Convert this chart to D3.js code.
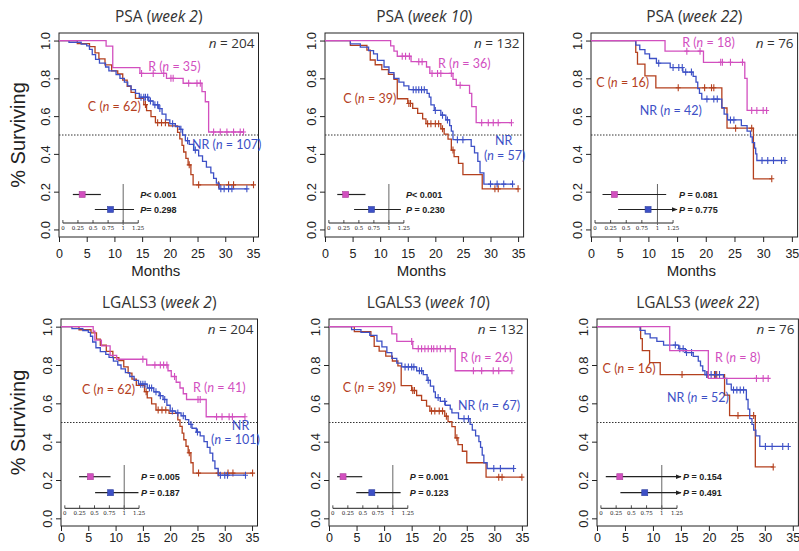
<!DOCTYPE html>
<html>
<head>
<meta charset="utf-8">
<script src="https://cdn.jsdelivr.net/npm/d3@7"></script>
<style>
  body { margin: 0; background: #fff; }
  text { font-family: "Liberation Sans", Arial, sans-serif; }
</style>
</head>
<body>
<div id="chart"></div>
<script>
// ---- data ----
var monthTicks = [0, 5, 10, 15, 20, 25, 30, 35];
var survTicks = [0, 0.2, 0.4, 0.6, 0.8, 1.0];
var hrTicks = [0, 0.25, 0.5, 0.75, 1, 1.25];
var hrTickLabels = ["0", "0.25", "0.5", "0.75", "1", "1.25"];

var markers = ["PSA", "PSA", "PSA", "LGALS3", "LGALS3", "LGALS3"];
var weeks = ["week 2", "week 10", "week 22", "week 2", "week 10", "week 22"];
var totalN = [204, 132, 76, 204, 132, 76];
var nR = [35, 36, 18, 41, 26, 8];
var nC = [62, 39, 16, 62, 39, 16];
var nNR = [107, 57, 42, 101, 67, 52];

// Kaplan-Meier steps [month, survival] and censor times
var ctrlW2 = [[0,1],[3.3,0.984],[5.5,0.968],[6.5,0.935],[7.2,0.903],[8.3,0.871],[9.5,0.839],[10.6,0.823],[11.5,0.79],[12.3,0.758],[13.0,0.726],[13.8,0.694],[15.3,0.661],[15.8,0.629],[16.6,0.597],[17.4,0.565],[19.8,0.548],[21.4,0.514],[21.8,0.48],[22.2,0.445],[22.5,0.41],[22.9,0.376],[23.3,0.342],[23.8,0.29],[24.2,0.236]];
var ctrlW2Cens = [15.6,17.8,18.5,19.2,23.5,25.2,28.8,30.6,31.5,35.1];
var ctrlW10 = [[0,1],[4.6,0.974],[7.6,0.949],[8.2,0.897],[9.1,0.872],[10.3,0.846],[11.5,0.821],[12.5,0.795],[13.1,0.692],[15.0,0.667],[15.9,0.641],[16.8,0.615],[17.7,0.585],[18.3,0.56],[21.0,0.533],[21.6,0.505],[22.3,0.478],[22.9,0.42],[23.4,0.385],[24.2,0.35],[25.0,0.29],[28.5,0.215]];
var ctrlW10Cens = [15.2,15.5,18.6,19.2,20.0,20.6,21.3,23.2,30.8,31.4,35.0];
var ctrlW22 = [[0,1],[7.8,0.9375],[8.1,0.875],[9.4,0.8125],[11.3,0.75],[22.8,0.643],[23.7,0.536],[28.3,0.268]];
var ctrlW22Cens = [15.2,19.8,21.0,21.4,25.2,28.0,31.5];

var psaW2R = [[0,1],[8.5,0.971],[9.7,0.857],[14.6,0.826],[19.4,0.80],[22.4,0.774],[25.8,0.73],[26.4,0.676],[27.0,0.516]];
var psaW2RCens = [14.9,17.0,18.9,20.2,20.6,23.4,24.9,25.5,27.9,29.1,30.3,31.5,32.7,33.3];
var psaW2NR = [[0,1],[1.8,0.991],[4.0,0.981],[5.0,0.972],[5.5,0.953],[6.0,0.925],[6.6,0.90],[7.3,0.88],[8.4,0.86],[9.0,0.84],[10.3,0.82],[11.0,0.80],[11.8,0.78],[12.4,0.76],[13.0,0.74],[13.8,0.72],[14.5,0.70],[16.2,0.68],[17.0,0.66],[18.0,0.64],[18.6,0.61],[19.3,0.58],[20.0,0.56],[21.0,0.545],[21.8,0.53],[22.3,0.50],[22.8,0.47],[23.5,0.45],[24.3,0.42],[25.2,0.39],[25.9,0.36],[26.6,0.33],[27.4,0.30],[27.9,0.27],[28.4,0.245],[28.9,0.215]];
var psaW2NRCens = [14.8,15.3,15.6,16.0,16.5,17.3,17.8,18.2,20.5,22.0,23.2,24.6,29.2,29.8,30.6,31.2,33.9];

var psaW10R = [[0,1],[11.9,0.972],[12.5,0.944],[13.1,0.917],[15.6,0.888],[18.4,0.86],[19.0,0.826],[23.2,0.795],[23.8,0.763],[26.2,0.72],[26.6,0.65],[27.4,0.565]];
var psaW10RCens = [14.0,14.6,15.3,17.0,17.6,19.4,20.4,21.0,22.9,24.5,28.4,29.6,30.5,31.4,33.8];
var psaW10NR = [[0,1],[4.6,0.982],[6.4,0.965],[7.9,0.947],[8.8,0.93],[9.5,0.895],[10.7,0.86],[11.6,0.83],[12.5,0.80],[13.4,0.78],[14.3,0.76],[15.2,0.74],[18.5,0.72],[18.9,0.70],[19.2,0.66],[19.8,0.63],[21.0,0.605],[21.9,0.58],[22.6,0.55],[22.9,0.52],[23.2,0.475],[26.5,0.44],[27.1,0.405],[27.7,0.36],[28.1,0.30],[28.8,0.24]];
var psaW10NRCens = [16.0,16.5,17.0,17.5,18.0,20.0,21.3,22.2,24.0,25.0,30.0,31.2,32.4,34.0];

var psaW22R = [[0,1],[12.9,0.944],[19.6,0.885],[26.8,0.80],[27.2,0.63]];
var psaW22RCens = [16.7,19.0,22.6,22.9,24.3,26.4,28.0,28.9,30.0,30.6];
var psaW22NR = [[0,1],[7.8,0.976],[8.5,0.952],[9.4,0.929],[10.2,0.905],[11.4,0.88],[13.8,0.857],[16.0,0.833],[17.8,0.81],[18.3,0.78],[18.6,0.745],[18.9,0.72],[19.3,0.69],[22.8,0.645],[23.2,0.61],[23.8,0.58],[26.2,0.55],[27.2,0.52],[27.8,0.49],[28.1,0.46],[28.5,0.43],[28.7,0.40],[28.9,0.365]];
var psaW22NRCens = [11.8,14.3,15.3,15.9,16.5,17.5,20.2,21.4,22.0,24.3,24.9,29.8,30.8,31.8,33.2,33.8];

var lgW2R = [[0,1],[5.9,0.976],[6.2,0.93],[7.4,0.90],[9.0,0.85],[10.2,0.83],[15.7,0.80],[19.6,0.77],[20.2,0.74],[21.1,0.71],[21.8,0.68],[22.4,0.65],[23.0,0.62],[26.6,0.53]];
var lgW2RCens = [15.0,17.2,18.2,18.8,19.4,20.8,25.1,25.5,28.5,29.5,30.8,31.4,33.7];
var lgW2NR = [[0,1],[2.0,0.99],[4.0,0.98],[5.0,0.97],[5.4,0.95],[5.8,0.92],[6.4,0.89],[7.2,0.87],[8.2,0.855],[8.8,0.84],[9.6,0.82],[10.4,0.80],[11.0,0.78],[11.8,0.76],[12.6,0.74],[13.4,0.72],[14.2,0.70],[15.8,0.68],[17.0,0.66],[18.0,0.64],[18.7,0.62],[19.4,0.59],[20.0,0.56],[21.0,0.55],[22.0,0.535],[22.8,0.515],[23.4,0.49],[24.0,0.47],[24.8,0.45],[25.5,0.43],[26.2,0.40],[26.8,0.37],[27.3,0.34],[27.8,0.30],[28.2,0.26],[28.8,0.225]];
var lgW2NRCens = [14.6,15.0,15.4,16.2,16.6,17.4,18.2,19.0,20.4,21.4,22.4,23.8,25.0,29.2,30.0,30.5,33.8];

var lgW10R = [[0,1],[11.4,0.962],[12.3,0.923],[15.2,0.885],[22.9,0.77]];
var lgW10RCens = [15.0,16.2,16.8,17.4,18.0,18.6,19.0,19.6,20.2,21.1,22.0,26.2,27.7,29.8,30.8,33.2];
var lgW10NR = [[0,1],[4.1,0.985],[5.8,0.97],[7.4,0.955],[8.7,0.925],[9.6,0.895],[10.5,0.865],[11.4,0.835],[12.3,0.81],[13.2,0.79],[15.9,0.77],[17.1,0.75],[17.8,0.72],[18.4,0.69],[19.0,0.66],[19.3,0.63],[20.2,0.61],[21.1,0.59],[22.0,0.57],[22.3,0.55],[23.5,0.52],[25.6,0.49],[26.0,0.46],[26.6,0.43],[27.2,0.40],[27.5,0.37],[27.8,0.33],[28.1,0.29],[28.7,0.26]];
var lgW10NRCens = [13.8,14.4,15.0,15.4,16.4,16.8,18.0,19.8,21.0,24.5,25.3,29.9,31.1,33.5];

var lgW22R = [[0,1],[13.0,0.875],[19.9,0.73]];
var lgW22RCens = [28.5,29.7,30.6];
var lgW22NR = [[0,1],[7.7,0.981],[8.6,0.962],[9.5,0.942],[10.7,0.923],[11.9,0.904],[14.6,0.885],[15.8,0.865],[17.2,0.845],[18.1,0.82],[18.5,0.795],[18.9,0.77],[19.3,0.75],[22.6,0.73],[23.2,0.70],[24.0,0.67],[26.7,0.62],[27.0,0.57],[27.3,0.52],[27.7,0.49],[28.0,0.46],[28.4,0.43],[29.1,0.375]];
var lgW22NRCens = [14.0,14.8,15.4,16.0,16.9,19.6,20.4,21.2,21.9,24.4,25.0,25.6,26.2,30.1,31.3,33.2,34.2];

// hazard ratio insets
var hrR = [0.32, 0.28, 0.31, 0.43, 0.17, 0.31];
var hrRLow = [0.165, 0.14, 0.12, 0.24, 0.07, 0.08];
var hrRHigh = [0.63, 0.61, 1.14, 0.77, 0.49, 1.6];
var hrNR = [0.79, 0.71, 0.85, 0.77, 0.65, 0.72];
var hrNRLow = [0.53, 0.42, 0.37, 0.51, 0.39, 0.32];
var hrNRHigh = [1.18, 1.2, 1.6, 1.24, 1.13, 1.6];
var pR = ["< 0.001", "< 0.001", " = 0.081", " = 0.005", " = 0.001", " = 0.154"];
var pNR = ["= 0.298", " = 0.230", " = 0.775", " = 0.187", " = 0.123", " = 0.491"];

// ---- layout ----
var colR = "#d24fbf", colC = "#b4401e", colNR = "#3d50c6";
var labelFont = "Lato, 'Open Sans', sans-serif";
var titleFont = "'Open Sans', Lato, sans-serif";
var boxes = [
  {x0: 59, x1: 258.5, y0: 33, y1: 237},
  {x0: 325, x1: 523.6, y0: 33, y1: 237},
  {x0: 591, x1: 797.6, y0: 33, y1: 237},
  {x0: 61, x1: 257.5, y0: 319, y1: 526},
  {x0: 329, x1: 527.4, y0: 319, y1: 526},
  {x0: 597, x1: 798.4, y0: 319, y1: 526}
];
// inset offsets above box bottom, per row
var insetRow = [
  {axis: 14, nr: 27.5, r: 42.5, top: 53},
  {axis: 17.7, nr: 33.3, r: 49.3, top: 61}
];
// label anchors in data units (months, survival)
var labelPos = [
  {R: [16.1, 0.86], C: [5.2, 0.65], NR: [24, 0.45]},
  {R: [20.5, 0.88], C: [3.3, 0.69], NR: [30.8, 0.47], NR2: [28.8, 0.39]},
  {R: [15.9, 0.99], C: [0.9, 0.775], NR: [8.5, 0.63]},
  {R: [24.2, 0.68], C: [3.85, 0.67], NR: [31.3, 0.485], NR2: [27.5, 0.41]},
  {R: [23.8, 0.84], C: [2.5, 0.68], NR: [23.4, 0.59]},
  {R: [21.1, 0.84], C: [1.0, 0.78], NR: [12.5, 0.63]}
];

var curves = [
  [psaW2R, psaW2RCens, ctrlW2, ctrlW2Cens, psaW2NR, psaW2NRCens],
  [psaW10R, psaW10RCens, ctrlW10, ctrlW10Cens, psaW10NR, psaW10NRCens],
  [psaW22R, psaW22RCens, ctrlW22, ctrlW22Cens, psaW22NR, psaW22NRCens],
  [lgW2R, lgW2RCens, ctrlW2, ctrlW2Cens, lgW2NR, lgW2NRCens],
  [lgW10R, lgW10RCens, ctrlW10, ctrlW10Cens, lgW10NR, lgW10NRCens],
  [lgW22R, lgW22RCens, ctrlW22, ctrlW22Cens, lgW22NR, lgW22NRCens]
];

var svg = d3.select("#chart").append("svg")
  .attr("width", 799).attr("height", 551);

var defs = svg.append("defs");
defs.append("marker").attr("id", "arr")
  .attr("viewBox", "0 0 10 10").attr("refX", 9).attr("refY", 5)
  .attr("markerWidth", 5).attr("markerHeight", 5).attr("orient", "auto")
  .append("path").attr("d", "M0,1L10,5L0,9z").attr("fill", "#222");

var bisect = d3.bisector(function(d) { return d[0]; }).right;

function survAt(steps, t) {
  return steps[Math.max(0, bisect(steps, t) - 1)][1];
}

function nText(sel, n) {
  sel.append("tspan").text("(");
  sel.append("tspan").style("font-style", "italic").text("n");
  sel.append("tspan").text(" = " + n + ")");
}

function addLabel(g, x, y, name, n, col) {
  var t = g.append("text").attr("x", x).attr("y", y)
    .attr("dy", "0.35em").attr("fill", col)
    .style("font-family", labelFont).style("font-weight", "400")
    .style("font-size", "12.5px");
  t.append("tspan").text(name);
  if (n !== null) nText(t, n);
  return t;
}

boxes.forEach(function(b, i) {
  var row = i < 3 ? 0 : 1;
  var g = svg.append("g");
  var xs = d3.scaleLinear().domain([0, 36]).range([b.x0, b.x1]);
  var ys = d3.scaleLinear().domain([-0.04, 1.04]).range([b.y1, b.y0]);

  // x axis
  var xa = g.append("g").attr("transform", "translate(0," + b.y1 + ")")
    .call(d3.axisBottom(xs).tickValues(monthTicks).tickSize(5).tickPadding(row === 0 ? 7 : 2));
  xa.select(".domain").remove();
  xa.selectAll("text").style("font-size", "12.5px")
    .style("font-family", "'Liberation Sans', Arial, sans-serif").attr("fill", "#222");
  xa.selectAll("line").attr("stroke", "#222");

  // y axis, labels rotated
  var ya = g.append("g").attr("transform", "translate(" + b.x0 + ",0)")
    .call(d3.axisLeft(ys).tickValues(survTicks).tickFormat(d3.format(".1f")).tickSize(5));
  ya.select(".domain").remove();
  ya.selectAll("line").attr("stroke", "#222");
  ya.selectAll("text")
    .attr("x", null).attr("dy", null)
    .attr("transform", "translate(-9,0) rotate(-90)")
    .attr("text-anchor", "middle")
    .attr("fill", "#222")
    .style("font-size", "13px").style("font-family", "'Liberation Sans', Arial, sans-serif");

  // box
  g.append("rect").attr("x", b.x0).attr("y", b.y0)
    .attr("width", b.x1 - b.x0).attr("height", b.y1 - b.y0)
    .attr("fill", "none").attr("stroke", "#222").attr("stroke-width", 1);

  // median line
  g.append("line").attr("x1", b.x0).attr("x2", b.x1)
    .attr("y1", ys(0.5)).attr("y2", ys(0.5))
    .attr("stroke", "#333").attr("stroke-width", 1).attr("stroke-dasharray", "1.5,1.5");

  // title
  var tt = g.append("text").attr("x", (b.x0 + b.x1) / 2).attr("y", b.y0 - 11)
    .attr("text-anchor", "middle").attr("fill", "#333")
    .style("font-family", titleFont).style("font-weight", "400").style("font-size", "15.5px");
  tt.append("tspan").text(markers[i] + " (");
  tt.append("tspan").style("font-style", "italic").text(weeks[i]);
  tt.append("tspan").text(")");

  // total n
  var nt = g.append("text").attr("x", b.x1 - 4).attr("y", b.y0 + 15)
    .attr("text-anchor", "end").attr("fill", "#333")
    .style("font-family", titleFont).style("font-weight", "400").style("font-size", "13.5px");
  nt.append("tspan").style("font-style", "italic").text("n");
  nt.append("tspan").text(" = " + totalN[i]);

  // axis titles
  if (i % 3 === 0) {
    g.append("text").attr("transform", "translate(" + 25 + "," + ((b.y0 + b.y1) / 2) + ") rotate(-90)")
      .attr("text-anchor", "middle").attr("fill", "#222")
      .style("font-size", "20px").text("% Surviving");
  }
  if (row === 0) {
    g.append("text").attr("x", (b.x0 + b.x1) / 2 - 3).attr("y", b.y1 + 39)
      .attr("text-anchor", "middle").attr("fill", "#222")
      .style("font-size", "15px").text("Months");
  }

  // KM curves
  var line = d3.line().x(function(d) { return xs(d[0]); })
    .y(function(d) { return ys(d[1]); }).curve(d3.curveStepAfter);
  var set = curves[i];
  var groups = [[set[2], set[3], colC], [set[4], set[5], colNR], [set[0], set[1], colR]];
  groups.forEach(function(gr) {
    var steps = gr[0], cens = gr[1];
    var end = Math.max(steps[steps.length - 1][0], d3.max(cens));
    var pts = steps.concat([[end, steps[steps.length - 1][1]]]);
    g.append("path").attr("d", line(pts)).attr("fill", "none")
      .attr("stroke", gr[2]).attr("stroke-width", 1.3);
    g.selectAll(null).data(cens).enter().append("path")
      .attr("d", function(t) {
        var x = xs(t), y = ys(survAt(steps, t));
        return "M" + x + "," + (y - 3.5) + "V" + (y + 3.5) + "M" + (x - 2.5) + "," + y + "H" + (x + 2.5);
      })
      .attr("stroke", gr[2]).attr("stroke-width", 1.1).attr("fill", "none");
  });

  // group labels
  var lp = labelPos[i];
  addLabel(g, xs(lp.R[0]), ys(lp.R[1]), "R ", nR[i], colR);
  addLabel(g, xs(lp.C[0]), ys(lp.C[1]), "C ", nC[i], colC);
  if (lp.NR2) {
    addLabel(g, xs(lp.NR[0]), ys(lp.NR[1]), "NR", null, colNR);
    var t2 = addLabel(g, xs(lp.NR2[0]), ys(lp.NR2[1]), "", null, colNR);
    nText(t2, nNR[i]);
  } else {
    addLabel(g, xs(lp.NR[0]), ys(lp.NR[1]), "NR ", nNR[i], colNR);
  }

  // hazard ratio inset
  var ir = insetRow[row];
  var hx = d3.scaleLinear().domain([0, 1.25]).range([xs(0.7), xs(14.3)]);
  var ay = b.y1 - ir.axis;
  var ig = g.append("g");
  ig.append("line").attr("x1", hx(0)).attr("x2", hx(1.25)).attr("y1", ay).attr("y2", ay)
    .attr("stroke", "#222").attr("stroke-width", 1);
  ig.selectAll(null).data(hrTicks).enter().append("line")
    .attr("x1", function(d) { return hx(d); }).attr("x2", function(d) { return hx(d); })
    .attr("y1", ay).attr("y2", ay - 3).attr("stroke", "#222").attr("stroke-width", 0.8);
  ig.selectAll(null).data(hrTicks).enter().append("text")
    .attr("x", function(d) { return hx(d); }).attr("y", ay + 6.5)
    .attr("text-anchor", "middle").attr("fill", "#222")
    .style("font-family", "'DejaVu Serif', serif").style("font-size", "5.5px")
    .text(function(d, k) { return hrTickLabels[k]; });
  ig.append("line").attr("x1", hx(1)).attr("x2", hx(1))
    .attr("y1", b.y1 - ir.top).attr("y2", ay + 2)
    .attr("stroke", "#666").attr("stroke-width", 1);

  var rows = [
    [hrR[i], hrRLow[i], hrRHigh[i], b.y1 - ir.r, colR, pR[i]],
    [hrNR[i], hrNRLow[i], hrNRHigh[i], b.y1 - ir.nr, colNR, pNR[i]]
  ];
  rows.forEach(function(r) {
    var over = r[2] > 1.25;
    var seg = ig.append("line").attr("x1", hx(r[1]))
      .attr("x2", over ? hx(1.25) + 4 : hx(r[2]))
      .attr("y1", r[3]).attr("y2", r[3])
      .attr("stroke", "#222").attr("stroke-width", 1.2);
    if (over) seg.attr("marker-end", "url(#arr)");
    ig.append("rect").attr("x", hx(r[0]) - 3).attr("y", r[3] - 3)
      .attr("width", 6).attr("height", 6)
      .attr("fill", r[4]).attr("stroke", d3.color(r[4]).darker(0.6)).attr("stroke-width", 0.6);
    var pt = ig.append("text").attr("x", hx(1.25) + (over || i % 3 === 2 ? 6 : 2)).attr("y", r[3])
      .attr("dy", "0.35em").attr("fill", "#222")
      .style("font-size", "9px").style("font-weight", "bold");
    pt.append("tspan").style("font-style", "italic").text("P");
    pt.append("tspan").text(r[5]);
  });
});
</script>
</body>
</html>
